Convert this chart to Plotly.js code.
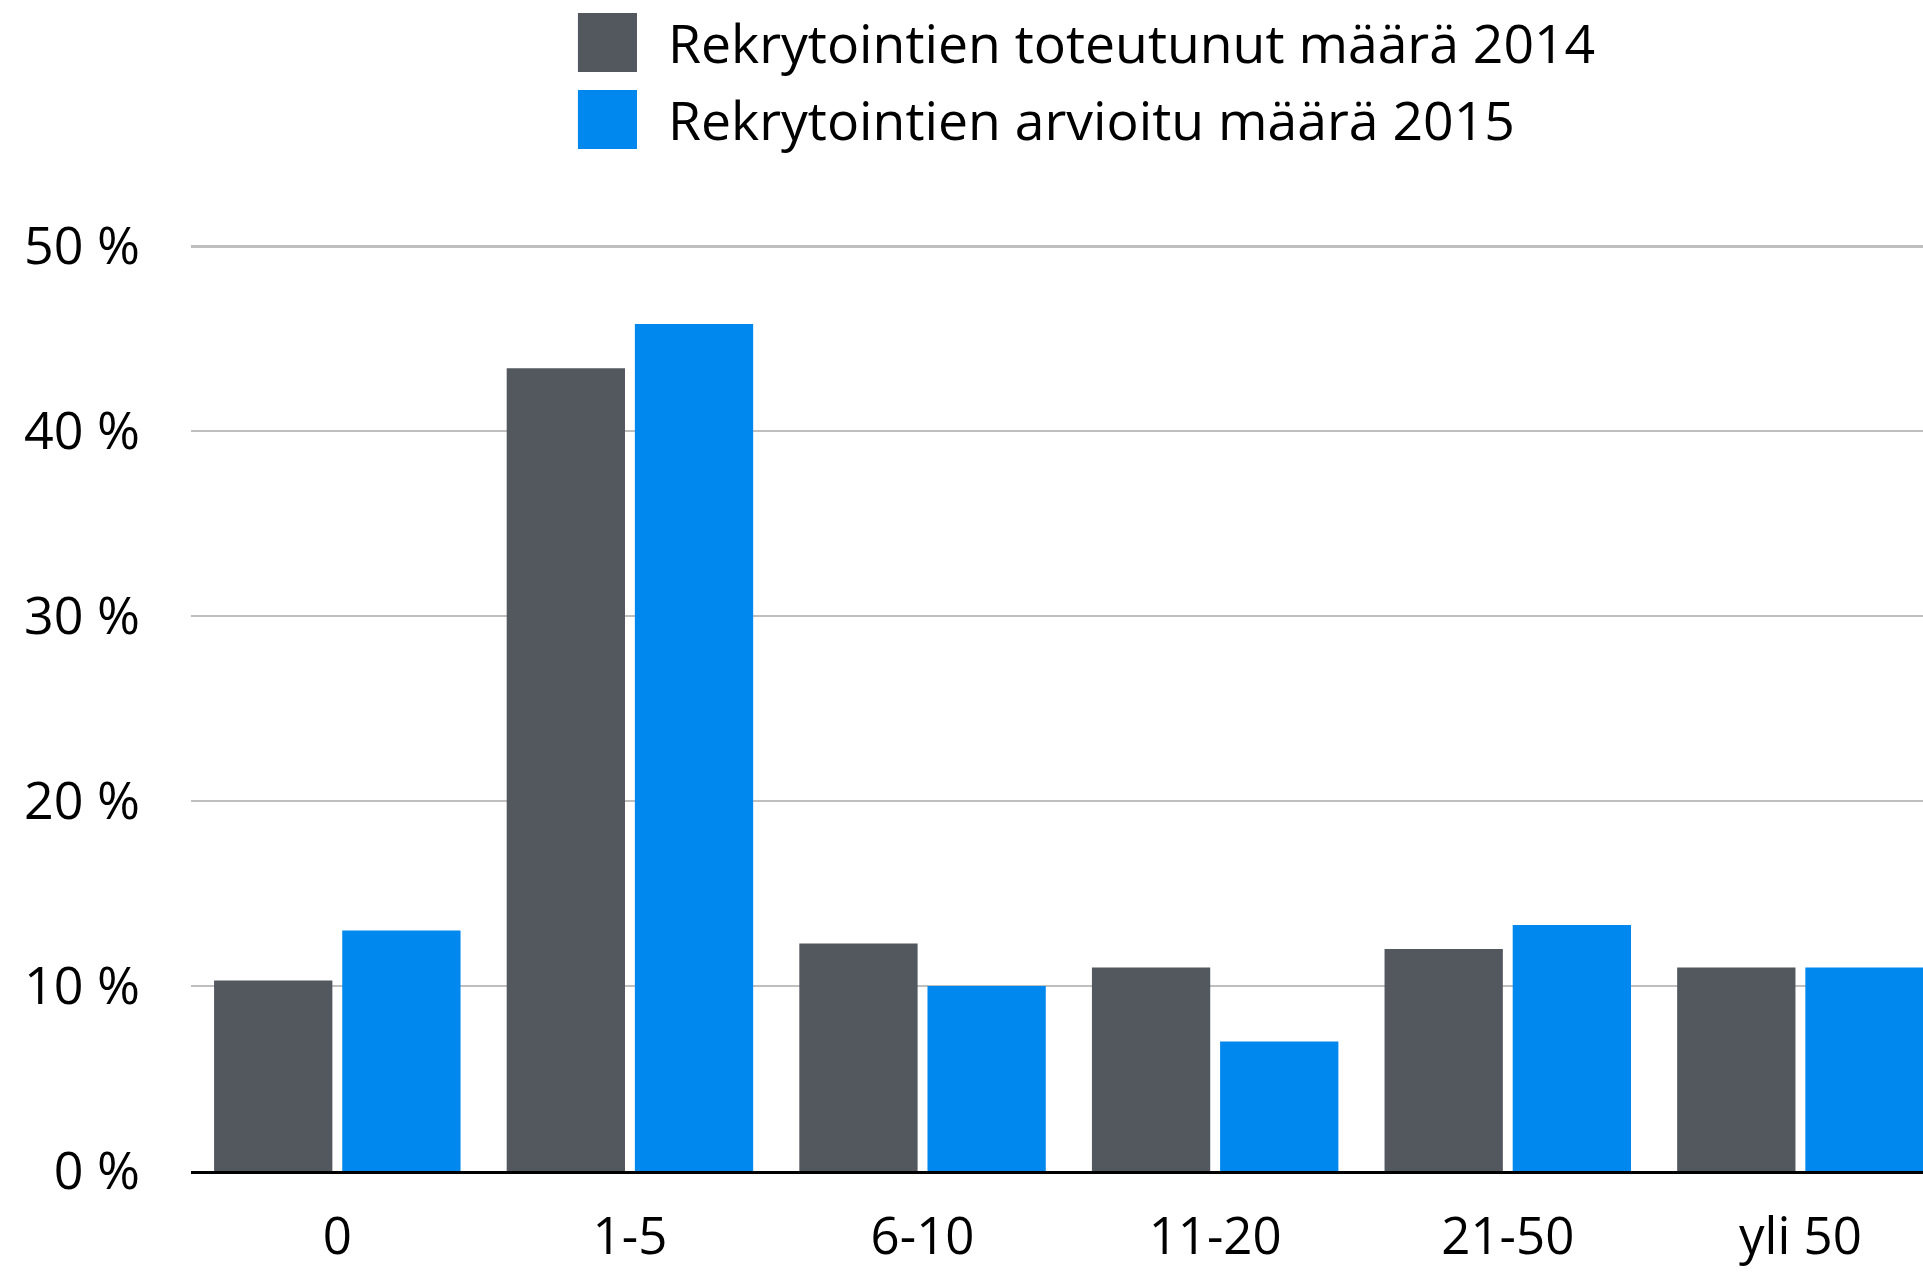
<!DOCTYPE html>
<html>
<head>
<meta charset="utf-8">
<script src="https://cdn.plot.ly/plotly-3.0.1.min.js"></script>
<style>html,body{margin:0;padding:0;background:#fff;overflow:hidden}</style>
</head>
<body>
<div id="chart" style="width:1923px;height:1273px"></div>
<script>
const categories = ["0", "1-5", "6-10", "11-20", "21-50", "yli 50"];
const series2014Name = "Rekrytointien toteutunut määrä 2014";
const series2015Name = "Rekrytointien arvioitu määrä 2015";
const values2014 = [10.3, 43.4, 12.3, 11.0, 12.0, 11.0];
const values2015 = [13.0, 45.8, 10.0, 7.0, 13.3, 11.0];
const yTicks = [0, 10, 20, 30, 40, 50];

const gray = "#53575e";
const blue = "#0088ee";
const fontFamily = "'Open Sans', 'Noto Sans', sans-serif";

const data = [
  {type: "bar", x: categories, y: values2014, name: series2014Name, marker: {color: gray}, showlegend: false},
  {type: "bar", x: categories, y: values2015, name: series2015Name, marker: {color: blue}, showlegend: false}
];

const layout = {
  width: 1923, height: 1273,
  margin: {l: 191, r: 0, t: 237, b: 102},
  paper_bgcolor: "#fff", plot_bgcolor: "#fff",
  font: {family: fontFamily, color: "#000", size: 52},
  barmode: "group",
  bargap: 0.124,
  bargroupgap: 0.077,
  showlegend: false,
  xaxis: {
    type: "category",
    range: [-0.5, 5.419],
    showgrid: false, zeroline: false,
    showline: true, linecolor: "#000", linewidth: 3, layer: "above traces",
    ticks: "", ticklabelstandoff: 19,
    tickfont: {size: 51, family: fontFamily, color: "#000"}
  },
  yaxis: {
    range: [0, 50.5],
    tickvals: yTicks,
    ticktext: yTicks.map(v => v + " %"),
    showgrid: true, gridcolor: "#bfbfbf", gridwidth: 2.5,
    zeroline: false, showline: false,
    ticks: "", ticklabelstandoff: 50,
    tickfont: {size: 52, family: fontFamily, color: "#000"}
  },
  shapes: [
    {type: "rect", xref: "paper", yref: "paper", x0: 0.2234, x1: 0.2575, y0: 1.1767, y1: 1.2398, fillcolor: gray, line: {width: 0}},
    {type: "rect", xref: "paper", yref: "paper", x0: 0.2234, x1: 0.2575, y0: 1.0942, y1: 1.1574, fillcolor: blue, line: {width: 0}}
  ],
  annotations: [
    {xref: "paper", yref: "paper", x: 0.2745, y: 1.2083, xanchor: "left", yanchor: "middle", showarrow: false, text: series2014Name, font: {size: 53.5, family: fontFamily, color: "#000"}},
    {xref: "paper", yref: "paper", x: 0.2745, y: 1.1258, xanchor: "left", yanchor: "middle", showarrow: false, text: series2015Name, font: {size: 53.5, family: fontFamily, color: "#000"}}
  ]
};

Plotly.newPlot("chart", data, layout, {displayModeBar: false, staticPlot: true});
</script>
</body>
</html>
